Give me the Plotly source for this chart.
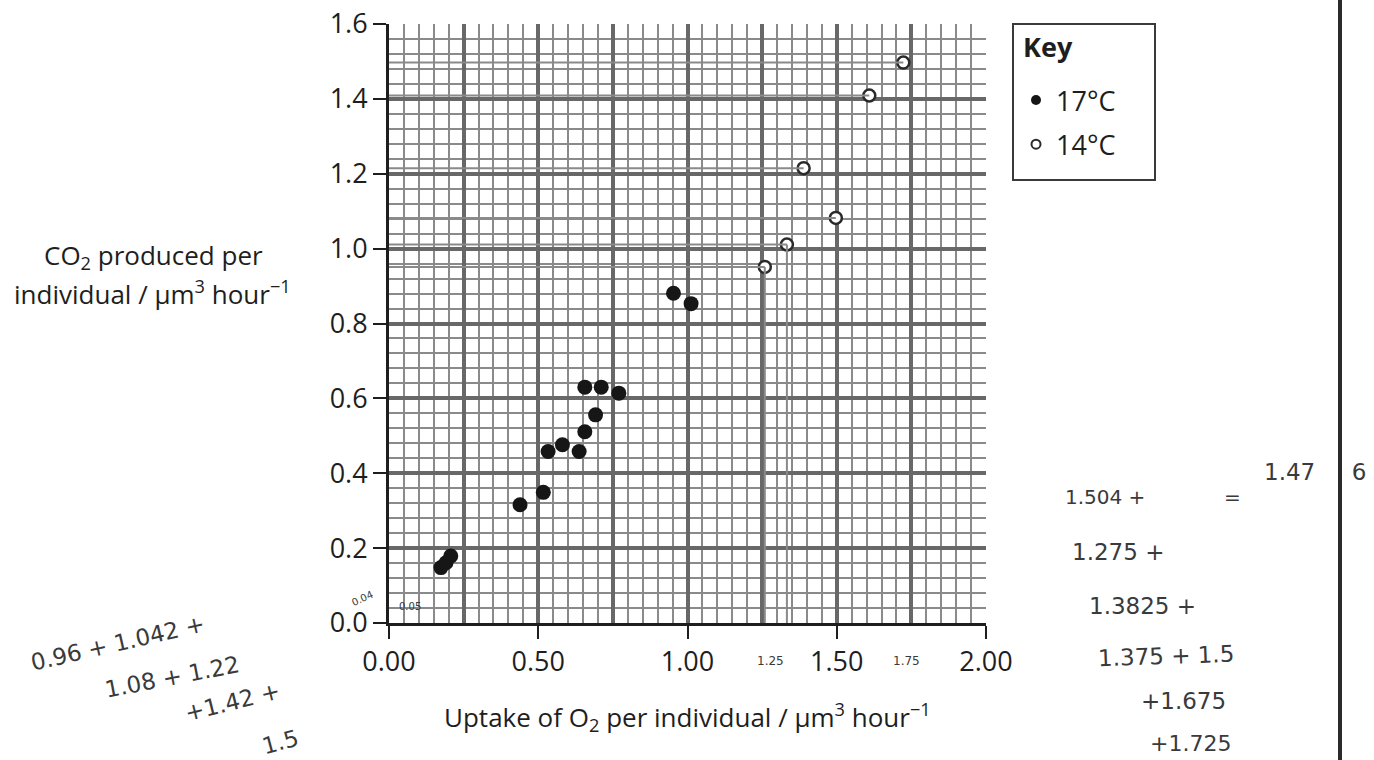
import plotly.graph_objects as go

# Readings at 17 °C (filled markers)
o2_17 = [0.174, 0.191, 0.207, 0.439, 0.517, 0.533, 0.581, 0.637, 0.656,
         0.692, 0.656, 0.711, 0.770, 0.953, 1.012]
co2_17 = [0.148, 0.161, 0.179, 0.316, 0.349, 0.458, 0.476, 0.458, 0.511,
          0.556, 0.630, 0.630, 0.614, 0.881, 0.853]

# Readings at 14 °C (open markers)
o2_14 = [1.259, 1.333, 1.389, 1.497, 1.609, 1.723]
co2_14 = [0.951, 1.011, 1.215, 1.082, 1.409, 1.497]

series_names = ["17°C", "14°C"]
x_ticks = [0.0, 0.5, 1.0, 1.5, 2.0]
x_ticktext = ["0.00", "0.50", "1.00", "1.50", "2.00"]
y_ticks = [0.0, 0.2, 0.4, 0.6, 0.8, 1.0, 1.2, 1.4, 1.6]
y_ticktext = ["0.0", "0.2", "0.4", "0.6", "0.8", "1.0", "1.2", "1.4", "1.6"]

FONT = "Open Sans"
INK = "#1e1e1e"
PEN = "#8a8a8a"
MINOR = "#8a8a8a"
MAJOR = "#686868"

L, R, T, B = 389, 388, 24, 137
PW, PH = 1374 - L - R, 760 - T - B


def px_x(px):
    return (px - L) / PW


def px_y(py):
    return (760 - B - py) / PH


fig = go.Figure()

# pencil read-off lines from the y axis to each 14 °C point
hx, hy = [], []
for xv, yv in zip(o2_14, co2_14):
    hx += [0, xv, None]
    hy += [yv, yv, None]
for xv, yv in zip(o2_14[:2], co2_14[:2]):
    hx += [xv, xv, None]
    hy += [yv, 0, None]
fig.add_trace(go.Scatter(x=hx, y=hy, mode="lines", xaxis="x2",
                         line=dict(color=PEN, width=2),
                         hoverinfo="skip", showlegend=False))

fig.add_trace(go.Scatter(x=o2_17, y=co2_17, mode="markers", showlegend=False,
                         marker=dict(size=15, color="#161616",
                                     line=dict(width=0))))
fig.add_trace(go.Scatter(x=o2_14, y=co2_14, mode="markers", showlegend=False,
                         marker=dict(size=12, color="white", symbol="circle",
                                     line=dict(width=2.5, color="#2a2a2a"))))

# key entries
fig.add_trace(go.Scatter(x=[None], y=[None], mode="markers", name=series_names[0],
                         legendgroup="a",
                         marker=dict(size=10, color="#161616")))
fig.add_trace(go.Scatter(x=[None], y=[None], mode="markers", name=series_names[1],
                         legendgroup="b",
                         marker=dict(size=9, color="white",
                                     line=dict(width=2, color="#2a2a2a"))))

tickfont = dict(family=FONT, size=27, color=INK)

fig.update_layout(
    width=1374, height=760,
    margin=dict(l=L, r=R, t=T, b=B, autoexpand=False),
    paper_bgcolor="white", plot_bgcolor="white",
    font=dict(family=FONT, color=INK),
    xaxis=dict(range=[0, 2], tickvals=x_ticks, ticktext=x_ticktext,
               tickfont=tickfont, ticks="outside", ticklen=13, tickwidth=2,
               tickcolor=INK, showline=True, linecolor=INK, linewidth=3,
               showgrid=False, zeroline=False,
               minor=dict(dtick=0.05, tick0=0, showgrid=True,
                          gridcolor=MINOR, gridwidth=2, ticks="")),
    xaxis2=dict(overlaying="x", matches="x", anchor="y", range=[0, 2],
                dtick=0.25, tick0=0, showgrid=True, gridcolor=MAJOR,
                gridwidth=3.5, showticklabels=False, ticks="",
                showline=False, zeroline=False),
    yaxis=dict(range=[0, 1.6], tickvals=y_ticks, ticktext=y_ticktext,
               tickfont=tickfont, ticks="outside", ticklen=13, tickwidth=2,
               tickcolor=INK, showline=True, linecolor=INK, linewidth=3,
               showgrid=True, gridcolor=MAJOR, gridwidth=3.5, zeroline=False,
               minor=dict(dtick=0.04, tick0=0, showgrid=True,
                          gridcolor=MINOR, gridwidth=2, ticks="")),
    legend=dict(x=px_x(1016), y=px_y(76), xanchor="left", yanchor="top",
                bgcolor="rgba(0,0,0,0)", borderwidth=0,
                font=dict(family=FONT, size=27, color=INK),
                traceorder="grouped", tracegroupgap=6, itemwidth=30),
    showlegend=True,
)

# key frame and heading
fig.add_shape(type="rect", xref="paper", yref="paper",
              x0=px_x(1013), x1=px_x(1155), y0=px_y(180), y1=px_y(24),
              line=dict(color="#3a3a3a", width=2), fillcolor="rgba(0,0,0,0)",
              layer="below")
fig.add_annotation(xref="paper", yref="paper", x=px_x(1021), y=px_y(47),
                   xanchor="left", yanchor="middle", showarrow=False,
                   text="<b>Key</b>", font=dict(family=FONT, size=27, color=INK))

# axis titles
fig.add_annotation(xref="paper", yref="paper", x=0.5, y=px_y(717),
                   xanchor="center", yanchor="middle", showarrow=False,
                   text="Uptake of O<sub>2</sub> per individual / µm<sup>3</sup> hour<sup>−1</sup>",
                   font=dict(family=FONT, size=26, color=INK))
fig.add_annotation(xref="paper", yref="paper", x=px_x(153), y=px_y(256),
                   xanchor="center", yanchor="middle", showarrow=False,
                   text="CO<sub>2</sub> produced per",
                   font=dict(family=FONT, size=26, color=INK))
fig.add_annotation(xref="paper", yref="paper", x=px_x(152), y=px_y(293),
                   xanchor="center", yanchor="middle", showarrow=False,
                   text="individual / µm<sup>3</sup> hour<sup>−1</sup>",
                   font=dict(family=FONT, size=26, color=INK))

# handwritten working on the page
NB = "\u00a0"
HAND = dict(family="DejaVu Sans", size=23, color="#3a3a3a")
notes = [
    (118, 643, "0.96 + 1.042 +", -13, 23, "center"),
    (172, 677, "1.08 + 1.22", -11, 23, "center"),
    (232, 702, "+1.42 +", -14, 23, "center"),
    (280, 742, "1.5", -15, 23, "center"),
    (1105, 497, "1.504 +", 0, 20, "center"),
    (1232, 497, "=", 0, 20, "center"),
    (1262, 472, "1.47" + NB * 5 + "6", 0, 23, "left"),
    (1118, 552, "1.275 +", 0, 23, "center"),
    (1142, 606, "1.3825 +", 0, 23, "center"),
    (1166, 656, "1.375 + 1.5", -2, 23, "center"),
    (1183, 701, "+1.675", 0, 23, "center"),
    (1190, 743, "+1.725", 0, 22, "center"),
    (770, 661, "1.25", 0, 12, "center"),
    (906, 661, "1.75", 0, 12, "center"),
    (410, 606, "0.05", 0, 10, "center"),
    (362, 598, "0.04", -25, 10, "center"),
]
for px, py, txt, rot, sz, anchor in notes:
    fig.add_annotation(xref="paper", yref="paper",
                       x=px_x(px), y=px_y(py),
                       xanchor=anchor, yanchor="middle", showarrow=False,
                       text=txt, textangle=rot,
                       font=dict(HAND, size=sz))

# page margin rule down the right-hand side of the page
fig.add_shape(type="line", xref="paper", yref="paper", layer="above",
              x0=px_x(1340), x1=px_x(1340), y0=px_y(760), y1=px_y(0),
              line=dict(color="#2a2a2a", width=4))

fig.write_html("out.html")
